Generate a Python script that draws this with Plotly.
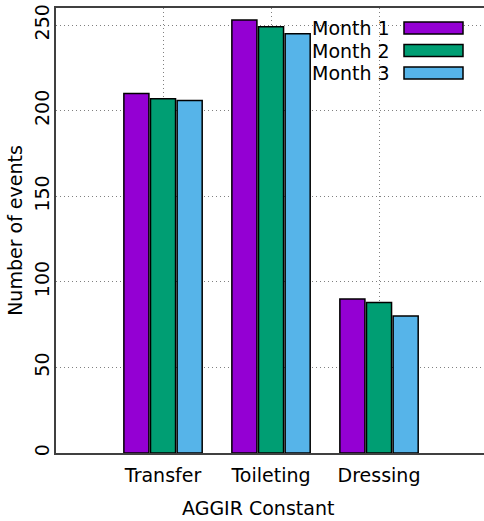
import plotly.graph_objects as go

categories = ["Transfer", "Toileting", "Dressing"]
series_names = ["Month 1", "Month 2", "Month 3"]
month1 = [210, 253, 90]
month2 = [207, 249, 88]
month3 = [206, 245, 80]
colors = ["#9400D3", "#009E73", "#56B4E9"]
y_ticks = [0, 50, 100, 150, 200, 250]

W, H = 484, 521
L, R, T, B = 56, 0, 8, 68
pw, ph = W - L - R, H - T - B

def px_x(x):
    return (x - L) / pw

def px_y(y):
    return (H - B - y) / ph

FONT = "DejaVu Sans"
FS = 19
fig = go.Figure()
for name, vals, c in zip(series_names, [month1, month2, month3], colors):
    fig.add_trace(go.Bar(
        x=categories, y=vals, name=name, marker_color=c,
        marker_line=dict(color="black", width=1.5), showlegend=False,
    ))

fig.update_layout(
    width=W, height=H,
    margin=dict(l=L, r=R, t=T, b=B, autoexpand=False),
    paper_bgcolor="white", plot_bgcolor="white",
    barmode="group", bargap=0.26, bargroupgap=0.06,
    font=dict(family=FONT, size=FS, color="black"),
)
grid = dict(showgrid=True, gridcolor="#808080", griddash="1px,3px", gridwidth=1)
fig.update_xaxes(
    range=[-0.991, 2.972], automargin=False,
    showline=True, linecolor="#404040", linewidth=2, mirror=True,
    ticks="", ticklabelstandoff=4,
    tickfont=dict(family=FONT, size=FS, color="black"),
    **grid,
)
fig.update_yaxes(
    range=[0, 260], tickvals=y_ticks, tickangle=-90, automargin=False,
    showline=True, linecolor="#404040", linewidth=2, mirror=False,
    zeroline=False, ticks="", ticklabelstandoff=-3,
    tickfont=dict(family=FONT, size=FS, color="black"),
    title=dict(text="Number of events", standoff=4,
               font=dict(family=FONT, size=FS, color="black")),
    **grid,
)

fig.add_annotation(
    text="AGGIR Constant", xref="paper", yref="paper",
    x=px_x(258), y=px_y(508), xanchor="center", yanchor="middle",
    showarrow=False, font=dict(family=FONT, size=FS, color="black"),
)

# legend box (text left of swatch, gnuplot style)
fig.add_shape(type="rect", xref="paper", yref="paper",
              x0=px_x(306), x1=px_x(470), y0=px_y(82), y1=px_y(14),
              fillcolor="white", line=dict(width=0), layer="between")
leg_y = [28, 50.5, 73]
for name, c, yy in zip(series_names, colors, leg_y):
    fig.add_annotation(
        text=name, xref="paper", yref="paper",
        x=px_x(392), y=px_y(yy), xanchor="right", yanchor="middle",
        showarrow=False, font=dict(family=FONT, size=FS, color="black"),
    )
    fig.add_shape(type="rect", xref="paper", yref="paper",
                  x0=px_x(404), x1=px_x(463), y0=px_y(yy + 6), y1=px_y(yy - 6),
                  fillcolor=c, line=dict(color="black", width=1.5), layer="above")

fig.write_html(
    "out.html",
    config={"displayModeBar": False},
    post_script="document.body.style.margin='0';document.body.style.overflow='hidden';",
)
